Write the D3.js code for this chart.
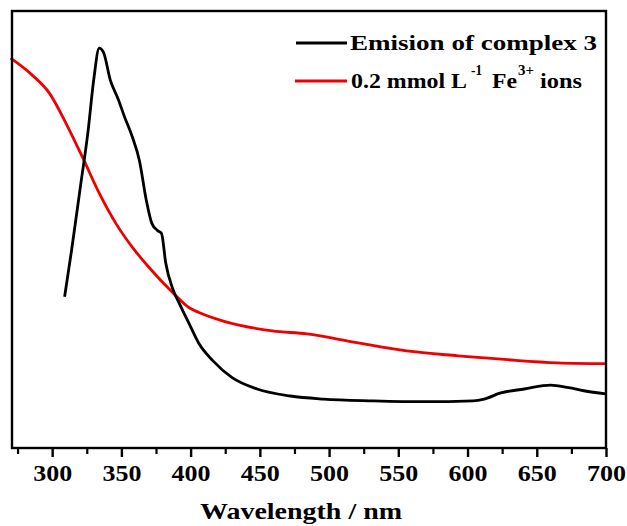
<!DOCTYPE html>
<html><head><meta charset="utf-8">
<script src="https://cdn.jsdelivr.net/npm/d3@7"></script>
<style>body{margin:0;background:#fff}svg{display:block}</style>
</head><body>
<svg id="chart" width="627" height="526"></svg>
<script>
// Emission of complex 3 (wavelength nm, intensity a.u.)
const emisWl = [309,314,320,326,330,334,337,342,348,352,358,363,368,372,376,379,382,387,392,399,406,416,430,448,472,496,532,568,604,612,624,641,660,673,684,700];
const emisI  = [346,452,589,727,842,915,906,842,796,760,711,658,567,514,498,491,424,365,330,284,239,200,161,135,119,112,108,106,108,112,126,135,144,138,131,124];
// Absorption of 0.2 mmol/L Fe3+ ions
const feWl = [270,285,298,310,323,334,346,358,370,387,399,406,423,459,484,520,556,593,629,665,700];
const feA  = [892,855,812,743,658,583,514,459,413,356,321,310,291,268,261,241,222,211,202,195,193];
const xTicks = [300,350,400,450,500,550,600,650,700];
const xMinor = [275,325,375,425,475,525,575,625,675];
const xDomain = [271,700];
const yDomain = [0,1000];

const svg = d3.select("#chart");
const x = d3.scaleLinear().domain(xDomain).range([12, 606]);
const y = d3.scaleLinear().domain(yDomain).range([448, 11]);
const font = "'Liberation Serif','Times New Roman',serif";

const line = d3.line().x(d=>x(d[0])).y(d=>y(d[1])).curve(d3.curveMonotoneX);
svg.append("path").datum(feWl.map((w,i)=>[w,feA[i]]))
  .attr("d",line).attr("fill","none").attr("stroke","#ee0000").attr("stroke-width",2.8);
svg.append("path").datum(emisWl.map((w,i)=>[w,emisI[i]]))
  .attr("d",line).attr("fill","none").attr("stroke","#000").attr("stroke-width",2.8);

// frame
svg.append("rect").attr("x",x(xDomain[0])).attr("y",y(yDomain[1]))
  .attr("width",x(xDomain[1])-x(xDomain[0])).attr("height",y(yDomain[0])-y(yDomain[1]))
  .attr("fill","none").attr("stroke","#000").attr("stroke-width",2.4);

// x axis
const gx = svg.append("g").attr("transform",`translate(0,${y(0)})`);
gx.call(d3.axisBottom(x).tickValues(xTicks).tickSize(9).tickSizeOuter(0).tickPadding(7).tickFormat(d3.format("d")));
gx.select(".domain").remove();
gx.selectAll(".tick line").attr("stroke-width",2.4);
gx.selectAll(".tick text").attr("font-family",font).attr("font-weight","bold").attr("font-size",24)
  .attr("fill","#000").attr("textLength",39).attr("lengthAdjust","spacingAndGlyphs");
const gm = svg.append("g").attr("transform",`translate(0,${y(0)})`);
gm.call(d3.axisBottom(x).tickValues(xMinor).tickSize(6).tickFormat(""));
gm.select(".domain").remove();
gm.selectAll(".tick line").attr("stroke-width",2.2);

svg.append("text").attr("x",200).attr("y",519)
  .attr("font-family",font).attr("font-weight","bold").attr("font-size",24)
  .attr("textLength",202).attr("lengthAdjust","spacingAndGlyphs")
  .text("Wavelength / nm");

// legend
const lg = svg.append("g").attr("font-family",font).attr("font-weight","bold").attr("font-size",21);
lg.append("line").attr("x1",296).attr("x2",347).attr("y1",43).attr("y2",43).attr("stroke","#000").attr("stroke-width",2.8);
lg.append("text").attr("x",350).attr("y",50).attr("textLength",247).attr("lengthAdjust","spacingAndGlyphs").text("Emision of complex 3");
lg.append("line").attr("x1",295).attr("x2",347).attr("y1",81).attr("y2",81).attr("stroke","#ee0000").attr("stroke-width",2.8);
const parts = [
  {t:"0.2 mmol L", x:351, y:88, w:116, fs:21},
  {t:"-1", x:471, y:75, w:11, fs:14},
  {t:"Fe", x:492, y:88, w:25, fs:21},
  {t:"3+", x:518, y:75, w:16, fs:14},
  {t:"ions", x:540, y:88, w:42, fs:21}
];
lg.selectAll("text.p").data(parts).join("text").attr("class","p")
  .attr("x",d=>d.x).attr("y",d=>d.y).attr("font-size",d=>d.fs)
  .attr("textLength",d=>d.w).attr("lengthAdjust","spacingAndGlyphs").text(d=>d.t);
</script>
</body></html>
